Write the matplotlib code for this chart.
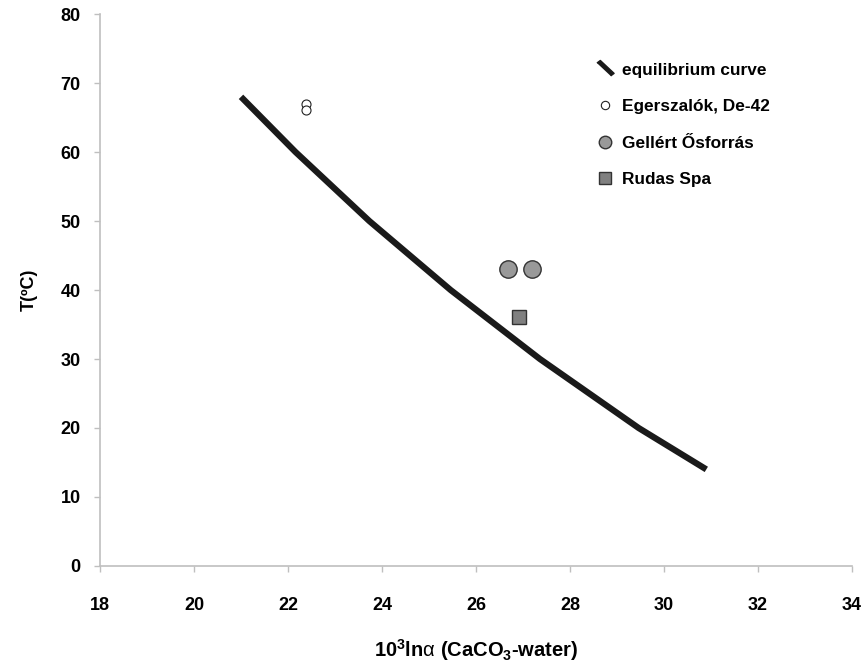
import matplotlib.pyplot as plt
from matplotlib.lines import Line2D

plt.rcParams['font.family'] = ['Liberation Sans', 'DejaVu Sans']
plt.rcParams['mathtext.fontset'] = 'custom'
plt.rcParams['mathtext.rm'] = 'Liberation Sans:bold'
plt.rcParams['mathtext.bf'] = 'Liberation Sans:bold'
plt.rcParams['mathtext.it'] = 'Liberation Sans'

# equilibrium curve
curve_x = [21.0, 22.16, 23.73, 25.46, 27.36, 29.46, 30.9]
curve_t = [68, 60, 50, 40, 30, 20, 14]

# samples
eger_x = [22.38, 22.38]
eger_t = [67.0, 66.1]
gell_x = [26.68, 27.19]
gell_t = [43.0, 43.0]
rudas_x = [26.91]
rudas_t = [36.1]

labels = ['equilibrium curve', 'Egerszalók, De-42', 'Gellért Ősforrás', 'Rudas Spa']

fig = plt.figure(figsize=(8.65, 6.65), dpi=100)
ax = fig.add_axes([0.1156, 0.1489, 0.8694, 0.8300])

ax.plot(curve_x, curve_t, color='#1a1a1a', lw=4.5, solid_capstyle='butt')
ax.plot(eger_x, eger_t, 'o', ms=6.5, mfc='white', mec='#222222', mew=0.8)
ax.plot(gell_x, gell_t, 'o', ms=12.5, mfc='#999999', mec='#333333', mew=1.0)
ax.plot(rudas_x, rudas_t, 's', ms=10, mfc='#808080', mec='#333333', mew=1.0)

ax.set_xlim(18, 34)
ax.set_ylim(0, 80)
ax.set_xticks(range(18, 35, 2))
ax.set_yticks(range(0, 81, 10))

for s in ['top', 'right']:
    ax.spines[s].set_visible(False)
for s in ['left', 'bottom']:
    ax.spines[s].set_color('#bfbfbf')
    ax.spines[s].set_linewidth(1.2)
ax.tick_params(axis='both', color='#bfbfbf', length=4, width=1.0, labelsize=13)
ax.tick_params(axis='x', pad=18)
ax.tick_params(axis='y', pad=10)
for lab in ax.get_xticklabels() + ax.get_yticklabels():
    lab.set_fontweight('bold')

ax.set_xlabel(r'10$^{3}$ln$\mathit{\alpha}$ (CaCO$_{3}$-water)', fontsize=14.5,
              fontweight='bold', labelpad=17)
ax.set_ylabel('T(ºC)', fontsize=13, fontweight='bold', labelpad=16)

# legend handles like the spreadsheet style
dash = [(-1.0, 0.75), (-0.6, 1.05), (1.0, -0.45), (0.6, -0.75)]
handles = [
    Line2D([], [], lw=0, marker=dash, ms=13, color='#1a1a1a'),
    Line2D([], [], lw=0, marker='o', ms=6, mfc='white', mec='#222222', mew=0.8),
    Line2D([], [], lw=0, marker='o', ms=9, mfc='#999999', mec='#333333', mew=1.0),
    Line2D([], [], lw=0, marker='s', ms=8, mfc='#808080', mec='#333333', mew=1.0),
]
leg = ax.legend(handles, labels, loc='upper left', bbox_to_anchor=(0.642, 0.94),
                frameon=False, handlelength=0.8, handletextpad=0.55,
                labelspacing=1.25, prop={'weight': 'bold', 'size': 12.4})

fig.savefig('out.png', dpi=100)
